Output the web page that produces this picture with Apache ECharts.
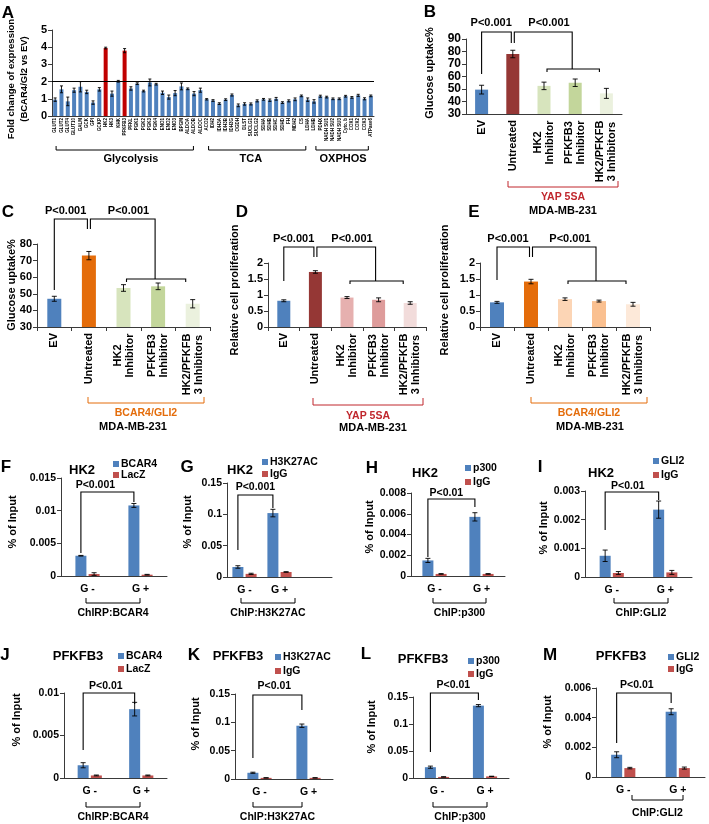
<!DOCTYPE html>
<html><head><meta charset="utf-8">
<script src="https://cdn.jsdelivr.net/npm/echarts@6/dist/echarts.min.js"></script>
<style>html,body{margin:0;padding:0;background:#fff}#c{width:709px;height:824px}</style>
</head><body><div id="c"></div><script>
// ---------------- DATA ----------------
const geneLabels = ['GLUT1','GLUT2','GLUT4','GLUT10','GALM','GCK','GPI','GCKP','HK2','HK3','KHK','PFKFB3','PFKL','PGK1','PGK2','PGK3','PGK4','ENO1','ENO2','ENO3','BPGM','ALDOA','ALDOB','ALDOC','ACO2','IDH2','IDH3A','IDH3B','IDH3G','OGDH','DLST','SUCLG1','SUCLG2','SDHA','SDHB','SDHC','SDHD','FH','MDH2','CS','LDHA','LDHB','PDHX','NADH SU1','NADH SU2','NADH SU3','Cyto. b','COX1','COX2','COX3','ATPase6'];
const foldChange = [0.95,1.55,0.85,1.5,1.7,1.4,0.78,1.55,3.95,1.3,2.02,3.8,1.6,1.88,1.45,1.95,1.85,1.35,1.1,1.33,1.72,1.58,1.3,1.5,
  0.97,0.9,0.72,0.95,1.22,0.62,0.7,0.7,0.88,0.97,0.92,1.0,0.78,0.88,0.97,1.17,0.95,0.85,
  1.15,1.1,1.0,1.0,1.15,1.08,1.2,1.0,1.17];
const foldErr = [0.1,0.2,0.25,0.12,0.3,0.1,0.1,0.1,0.05,0.15,0.05,0.12,0.1,0.05,0.05,0.2,0.05,0.1,0.12,0.15,0.2,0.05,0.12,0.12,
  0.04,0.05,0.05,0.05,0.06,0.08,0.07,0.06,0.06,0.05,0.07,0.08,0.05,0.06,0.08,0.05,0.1,0.1,
  0.06,0.05,0.05,0.05,0.05,0.05,0.06,0.06,0.05];
const highlightGenes = ['HK2','PFKFB3'];
const geneGroups = ['Glycolysis','TCA','OXPHOS'];

const treatCats = ['EV','Untreated','HK2\nInhibitor','PFKFB3\nInhibitor','HK2/PFKFB\n3 Inhibitors'];
const glucoseYAP = [49.5,78,52.5,55,46.5];
const glucoseYAPErr = [3.5,3,3,3,4];
const glucoseBG = [47,73,53.5,54.5,44];
const glucoseBGErr = [1.5,2.5,2,2,2.5];
const prolifYAP = [0.82,1.72,0.92,0.85,0.75];
const prolifYAPErr = [0.03,0.04,0.03,0.06,0.04];
const prolifBG = [0.77,1.42,0.87,0.81,0.71];
const prolifBGErr = [0.03,0.07,0.04,0.03,0.06];

const gCats = ['G -','G +'];
const hk2BCAR4 = [0.0031,0.0108], hk2BCAR4Err = [0.00005,0.0003];
const hk2LacZ = [0.0003,0.0002], hk2LacZErr = [0.0002,0.00005];
const hk2H3K27AC = [0.016,0.102], hk2H3K27ACErr = [0.002,0.006];
const hk2IgG_H3 = [0.005,0.008], hk2IgG_H3Err = [0.001,0.0005];
const hk2P300 = [0.0015,0.0057], hk2P300Err = [0.0002,0.0004];
const hk2IgG_P300 = [0.0002,0.0002], hk2IgG_P300Err = [0.00003,0.00003];
const hk2GLI2 = [0.00074,0.00235], hk2GLI2Err = [0.0002,0.0003];
const hk2IgG_GLI2 = [0.00014,0.00016], hk2IgG_GLI2Err = [0.00005,0.00007];
const pfkBCAR4 = [0.0015,0.0081], pfkBCAR4Err = [0.0003,0.0008];
const pfkLacZ = [0.0003,0.0003], pfkLacZErr = [0.00005,0.00005];
const pfkH3K27AC = [0.011,0.094], pfkH3K27ACErr = [0.001,0.003];
const pfkIgG_H3 = [0.002,0.002], pfkIgG_H3Err = [0.0003,0.0003];
const pfkP300 = [0.02,0.134], pfkP300Err = [0.002,0.002];
const pfkIgG_P300 = [0.002,0.003], pfkIgG_P300Err = [0.0003,0.0003];
const pfkGLI2 = [0.0015,0.0044], pfkGLI2Err = [0.0002,0.0002];
const pfkIgG_GLI2 = [0.0006,0.0006], pfkIgG_GLI2Err = [0.00005,0.00007];

// ---------------- STYLE / LAYOUT ----------------
const FONT = '"Liberation Sans", Arial, sans-serif';
const BLUE = '#4F81BD', RED = '#C0504D', DARKRED = '#C00000', AX = '#3a3a3a';
const ctx = document.createElement('canvas').getContext('2d');
function tw(s, font){ ctx.font = font; return ctx.measureText(s).width; }

const chart = echarts.init(document.getElementById('c'), null, {renderer:'canvas'});
const grids = [], xAxes = [], yAxes = [], series = [];

function errRender(off, cap) {
  return function(params, api) {
    const lo = api.coord([api.value(0), api.value(1)]);
    const hi = api.coord([api.value(0), api.value(2)]);
    const cx = lo[0] + off;
    const st = {stroke:'#000', lineWidth:0.9};
    return {type:'group', children:[
      {type:'line', shape:{x1:cx,y1:lo[1],x2:cx,y2:hi[1]}, style:st},
      {type:'line', shape:{x1:cx-cap,y1:hi[1],x2:cx+cap,y2:hi[1]}, style:st},
      {type:'line', shape:{x1:cx-cap,y1:lo[1],x2:cx+cap,y2:lo[1]}, style:st}
    ]};
  };
}

function addPanel(p) {
  const gi = grids.length;
  grids.push({left:p.box[0], top:p.box[1], width:p.box[2], height:p.box[3]});
  const xl = Object.assign({interval:0, color:'#000', fontWeight:'bold', fontFamily:FONT, fontSize:10.5}, p.xLabel || {});
  xAxes.push({type:'category', gridIndex:gi, data:p.cats,
    axisLine:{lineStyle:{color:AX, width:1}},
    axisTick:{show:!!p.xTick, length:4, lineStyle:{color:AX}},
    axisLabel:xl});
  yAxes.push({type:'value', gridIndex:gi, min:p.y[0], max:p.y[1], interval:p.y[2],
    axisLine:{show:true, lineStyle:{color:AX}},
    axisTick:{show:true, length:4, lineStyle:{color:AX}},
    splitLine:{show:false},
    axisLabel:{color:'#000', fontWeight:'bold', fontSize:p.yFont || 10.5, fontFamily:FONT, margin:5}});
  const n = p.series.length;
  p.series.forEach((s, k) => {
    const off = n === 1 ? 0 : (k - (n - 1) / 2) * p.barWidth * 1.2;
    const bar = {type:'bar', name:s.name, xAxisIndex:gi, yAxisIndex:gi, barWidth:p.barWidth, barGap:'20%',
      silent:true,
      data:s.values.map((v, i) => ({value:v, itemStyle:{color: s.colors ? s.colors[i] : s.color}}))};
    if (p.refLine !== undefined) {
      bar.markLine = {silent:true, symbol:'none', label:{show:false}, lineStyle:{color:'#000', width:1.2, type:'solid'},
        data:[{yAxis:p.refLine}]};
    }
    series.push(bar);
    series.push({type:'custom', xAxisIndex:gi, yAxisIndex:gi, z:5, silent:true,
      data:s.values.map((v, i) => [i, Math.max(0, v - s.err[i]), v + s.err[i]]),
      renderItem:errRender(off, p.cap || 2.5)});
  });
  return gi;
}

function treatLabel(cats) {
  const font = `bold 11px ${FONT}`;
  const rich = {};
  cats.forEach((c, i) => {
    const w = Math.max(...c.split('\n').map(l => tw(l, font)));
    rich['c' + i] = {width:Math.ceil(w) + 1, align:'center', fontSize:11, fontWeight:'bold', fontFamily:FONT, color:'#000', lineHeight:12};
  });
  return {rotate:90, fontSize:11, margin:6, lineHeight:12, rich,
    formatter:(v, i) => { const ls = v.split('\n'); return ls.length < 2 ? v : ls.map(l => `{c${i}|${l}}`).join('\n'); }};
}

const colYAP = [BLUE,'#953735','#D7E4BD','#C3D69B','#EBF1DE'];
const colBG_C = [BLUE,'#E46C0A','#D7E4BD','#C3D69B','#EBF1DE'];
const colYAP_D = [BLUE,'#953735','#E6B0AF','#DE9C9B','#F2DCDB'];
const colBG_E = [BLUE,'#E46C0A','#FCD5B5','#FAC090','#FDE9D9'];

const P = {};
P.A = addPanel({box:[52,30,322,86], cats:geneLabels, y:[0,5,1], barWidth:4, cap:1.5, yFont:11, refLine:2,
  xLabel:{rotate:90, fontSize:4.5, margin:2},
  series:[{name:'Fold change', values:foldChange, err:foldErr, colors:geneLabels.map(g => highlightGenes.includes(g) ? DARKRED : BLUE)}]});
P.B = addPanel({box:[466,39,156,75], cats:treatCats, y:[30,90,10], barWidth:13, yFont:12, xLabel:treatLabel(treatCats),
  series:[{name:'Glucose uptake', values:glucoseYAP, err:glucoseYAPErr, colors:colYAP}]});
P.C = addPanel({box:[37,244,173,83], cats:treatCats, y:[30,80,10], barWidth:14, yFont:11, xTick:true, xLabel:treatLabel(treatCats),
  series:[{name:'Glucose uptake', values:glucoseBG, err:glucoseBGErr, colors:colBG_C}]});
P.D = addPanel({box:[268,263,158,64], cats:treatCats, y:[0,2,0.5], barWidth:13, yFont:11, xTick:true, xLabel:treatLabel(treatCats),
  series:[{name:'Proliferation', values:prolifYAP, err:prolifYAPErr, colors:colYAP_D}]});
P.E = addPanel({box:[480,263,170,64], cats:treatCats, y:[0,2,0.5], barWidth:14, yFont:11, xTick:true, xLabel:treatLabel(treatCats),
  series:[{name:'Proliferation', values:prolifBG, err:prolifBGErr, colors:colBG_E}]});

const chipX = {fontSize:10.5, margin:8};
function chip(box, cats, y, s1, s2) {
  return addPanel({box, cats, y, barWidth:11, cap:2.5, xLabel:chipX, series:[s1, s2]});
}
P.F = chip([61,478,106,98], gCats, [0,0.015,0.005], {name:'BCAR4', values:hk2BCAR4, err:hk2BCAR4Err, color:BLUE}, {name:'LacZ', values:hk2LacZ, err:hk2LacZErr, color:RED});
P.G = chip([227,483,105,94], gCats.concat(['']), [0,0.15,0.05], {name:'H3K27AC', values:hk2H3K27AC, err:hk2H3K27ACErr, color:BLUE}, {name:'IgG', values:hk2IgG_H3, err:hk2IgG_H3Err, color:RED});
P.H = chip([411,493,94,83], gCats, [0,0.008,0.002], {name:'p300', values:hk2P300, err:hk2P300Err, color:BLUE}, {name:'IgG', values:hk2IgG_P300, err:hk2IgG_P300Err, color:RED});
P.I = chip([585,491,107,86], gCats, [0,0.003,0.001], {name:'GLI2', values:hk2GLI2, err:hk2GLI2Err, color:BLUE}, {name:'IgG', values:hk2IgG_GLI2, err:hk2IgG_GLI2Err, color:RED});
P.J = chip([64,693,103,85], gCats, [0,0.01,0.005], {name:'BCAR4', values:pfkBCAR4, err:pfkBCAR4Err, color:BLUE}, {name:'LacZ', values:pfkLacZ, err:pfkLacZErr, color:RED});
P.K = chip([235,694,98,85], gCats, [0,0.15,0.05], {name:'H3K27AC', values:pfkH3K27AC, err:pfkH3K27ACErr, color:BLUE}, {name:'IgG', values:pfkIgG_H3, err:pfkIgG_H3Err, color:RED});
P.L = chip([413,697,96,81], gCats, [0,0.15,0.05], {name:'p300', values:pfkP300, err:pfkP300Err, color:BLUE}, {name:'IgG', values:pfkIgG_P300, err:pfkIgG_P300Err, color:RED});
P.M = chip([596,688,109,89], gCats, [0,0.006,0.002], {name:'GLI2', values:pfkGLI2, err:pfkGLI2Err, color:BLUE}, {name:'IgG', values:pfkIgG_GLI2, err:pfkIgG_GLI2Err, color:RED});

chart.setOption({animation:false, backgroundColor:'#fff', textStyle:{fontFamily:FONT},
  grid:grids, xAxis:xAxes, yAxis:yAxes, series});

// ---------------- ANNOTATIONS ----------------
const Gr = [];
function T(x, y, text, o = {}) {
  Gr.push({type:'text', x, y, rotation:o.rot || 0, z:100, silent:true,
    style:{text, fill:o.color || '#000', font:`bold ${o.size || 10.5}px ${FONT}`,
      textAlign:o.align || 'center', textVerticalAlign:'middle', align:o.align || 'center', verticalAlign:'middle'}});
}
function L(points, color = '#000', w = 1.1) {
  Gr.push({type:'polyline', z:100, silent:true, shape:{points}, style:{stroke:color, lineWidth:w, fill:null}});
}
function R(x, y, w, h, color) {
  Gr.push({type:'rect', z:100, silent:true, shape:{x, y, width:w, height:h}, style:{fill:color}});
}
function px(gi, cat, val) { return chart.convertToPixel({gridIndex:gi}, [cat, val]); }
function cx(gi, cat, off = 0) { return px(gi, cat, 0)[0] + off; }
function letter(x, y, s) { T(x, y, s, {size:17}); }
function yname(x, y, s, size = 11) { T(x, y, s, {rot:Math.PI / 2, size}); }
function legend(x, y, items, gap = 13) {
  items.forEach(([label, color], k) => {
    const yy = y + k * gap;
    R(x, yy - 3, 6, 6, color);
    T(x + 8, yy, label, {align:'left'});
  });
}
function underBracket(x1, x2, y, label, ly, color = '#000', h = 5) {
  L([[x1, y - h], [x1, y], [x2, y], [x2, y - h]], color, 1);
  T((x1 + x2) / 2, ly, label, {color});
}

// Panel A
letter(8, 13, 'A');
yname(11, 79, 'Fold change of expression', 9.5);
yname(24, 79, '(BCAR4/Gl2 vs EV)', 9.5);
(function(){
  const x0 = cx(P.A, 0), sp = cx(P.A, 1) - x0;
  const xi = i => x0 + i * sp;
  const spans = [[0.15, 21.9, 12], [24.3, 39.7, 31], [41.3, 49.6, 45.6]];
  spans.forEach(([a, b, c], k) => {
    L([[xi(a), 146], [xi(a), 150], [xi(b), 150], [xi(b), 146]], '#000', 1);
    T(xi(c), 159, geneGroups[k], {size:11});
  });
})();

// Panels B-E
function treatAnnot(gi, o) {
  const xEV = cx(gi, 0), xU = cx(gi, 1), xH = cx(gi, 2), xP = cx(gi, 3), xC = cx(gi, 4);
  L([[xEV, o.evB], [xEV, o.top], [xU - 1.5, o.top], [xU - 1.5, o.uB]]);
  L([[xU + 1.5, o.uB], [xU + 1.5, o.top], [xP - 3, o.top], [xP - 3, o.gY]]);
  L([[xH + 3, o.gY + 3], [xH + 3, o.gY], [xC - 7, o.gY], [xC - 7, o.gY + 3]]);
  T((xEV + xU) / 2 - 6, o.ty, 'P<0.001', {size:11});
  T((xU + xP) / 2 + 5, o.ty, 'P<0.001', {size:11});
}
letter(430, 12, 'B');
yname(430, 73, 'Glucose uptake%', 11);
treatAnnot(P.B, {top:32, evB:74, uB:43, gY:69, ty:23});
underBracket(508, 618, 187, 'YAP 5SA', 197, '#C0272D', 6);
T(563, 211, 'MDA-MB-231', {size:11});

letter(8, 212, 'C');
yname(12, 285, 'Glucose uptake%', 11);
treatAnnot(P.C, {top:219, evB:290, uB:229, gY:279, ty:211});
underBracket(88, 204, 403, 'BCAR4/GLI2', 413, '#E46C0A', 6);
T(133, 427, 'MDA-MB-231', {size:11});

letter(242, 212, 'D');
yname(235, 290, 'Relative cell proliferation', 11);
treatAnnot(P.D, {top:247, evB:281, uB:257, gY:281, ty:239});
underBracket(313, 423, 405, 'YAP 5SA', 416, '#C0272D', 7);
T(373, 428, 'MDA-MB-231', {size:11});

letter(474, 212, 'E');
yname(445, 290, 'Relative cell proliferation', 11);
treatAnnot(P.E, {top:247, evB:280, uB:257, gY:281, ty:239});
underBracket(531, 647, 403, 'BCAR4/GLI2', 413, '#E46C0A', 6);
T(590, 427, 'MDA-MB-231', {size:11});

// Panels F-M
function chipAnnot(gi, o) {
  const off = -11 * 0.6;
  const x1 = cx(gi, 0, off), x2 = cx(gi, 1, off);
  L([[x1, o.b1], [x1, o.top], [x2, o.top], [x2, o.b2]]);
  T((x1 + x2) / 2 + (o.dx || 0), o.ty, o.text);
}
letter(6, 467, 'F'); T(82, 470, 'HK2', {size:13});
legend(113, 464, [['BCAR4', BLUE], ['LacZ', RED]], 11);
yname(13, 522, '% of Input');
chipAnnot(P.F, {top:492, b1:553, b2:502, ty:485, text:'P<0.001', dx:-12});
underBracket(86, 140, 603, 'ChIRP:BCAR4', 613, '#000', 5);

letter(187, 467, 'G'); T(240, 470, 'HK2', {size:13});
legend(262, 462, [['H3K27AC', BLUE], ['IgG', RED]], 12);
yname(188, 522, '% of Input');
chipAnnot(P.G, {top:495, b1:550, b2:508, ty:487, text:'P<0.001'});
underBracket(241, 295, 603, 'ChIP:H3K27AC', 613, '#000', 5);

letter(372, 468, 'H'); T(425, 473, 'HK2', {size:13});
legend(465, 468, [['p300', BLUE], ['IgG', RED]], 14);
yname(370, 527, '% of Input');
chipAnnot(P.H, {top:499, b1:557, b2:507, ty:493, text:'P<0.01', dx:-5});
underBracket(433, 486, 603, 'ChIP:p300', 613, '#000', 5);

letter(540, 467, 'I'); T(601, 473, 'HK2', {size:13});
legend(653, 461, [['GLI2', BLUE], ['IgG', RED]], 14);
yname(544, 528, '% of Input');
chipAnnot(P.I, {top:492, b1:530, b2:500, ty:486, text:'P<0.01', dx:-4});
underBracket(614, 668, 603, 'ChIP:GLI2', 613, '#000', 5);

letter(5, 655, 'J'); T(78, 656, 'PFKFB3', {size:13});
legend(118, 656, [['BCAR4', BLUE], ['LacZ', RED]], 13);
yname(17, 720, '% of Input');
chipAnnot(P.J, {top:693, b1:750, b2:704, ty:686, text:'P<0.01', dx:-3});
underBracket(86, 140, 807, 'ChIRP:BCAR4', 817, '#000', 5);

letter(194, 655, 'K'); T(238, 656, 'PFKFB3', {size:13});
legend(275, 657, [['H3K27AC', BLUE], ['IgG', RED]], 14);
yname(196, 724, '% of Input');
chipAnnot(P.K, {top:695, b1:758, b2:710, ty:686, text:'P<0.01', dx:-3});
underBracket(253, 302, 807, 'ChIP:H3K27AC', 817, '#000', 5);

letter(366, 654, 'L'); T(423, 659, 'PFKFB3', {size:13});
legend(468, 661, [['p300', BLUE], ['IgG', RED]], 13);
yname(372, 727, '% of Input');
chipAnnot(P.L, {top:693, b1:752, b2:700, ty:685, text:'P<0.01', dx:-1});
underBracket(433, 487, 807, 'ChIP:p300', 817, '#000', 5);

letter(550, 655, 'M'); T(621, 656, 'PFKFB3', {size:13});
legend(668, 657, [['GLI2', BLUE], ['IgG', RED]], 12);
yname(548, 722, '% of Input');
chipAnnot(P.M, {top:693, b1:743, b2:703, ty:685, text:'P<0.01', dx:-7});
underBracket(632, 683, 800, 'ChIP:GLI2', 813, '#000', 5);

chart.setOption({graphic:Gr});
</script></body></html>
